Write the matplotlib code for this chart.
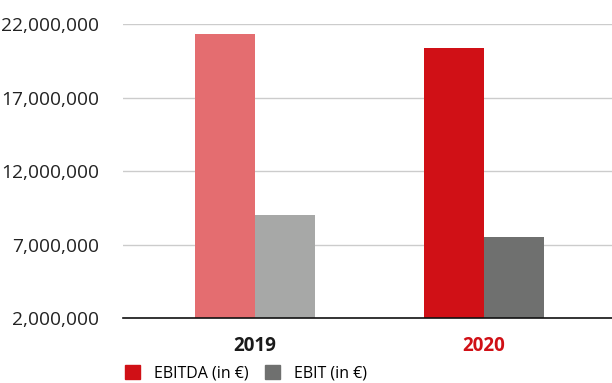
import matplotlib
matplotlib.use("Agg")
import matplotlib.pyplot as plt
from matplotlib.patches import Patch

years = ["2019", "2020"]
ebitda = [21_320_000, 20_370_000]
ebit = [9_010_000, 7_510_000]
yticks = [2_000_000, 7_000_000, 12_000_000, 17_000_000, 22_000_000]

ebitda_colors = ["#E46D70", "#D01016"]
ebit_colors = ["#A7A8A7", "#6F706F"]
year_colors = ["#1A1A1A", "#D01016"]

plt.rcParams["font.family"] = ["Open Sans", "DejaVu Sans"]

fig = plt.figure(figsize=(6.12, 3.83), dpi=100)
ax = fig.add_axes([123 / 612, 1 - 318 / 383, (612 - 123) / 612, (318 - 24) / 383])

x = range(len(years))
w = 0.262
ax.bar([i - w / 2 for i in x], ebitda, width=w, color=ebitda_colors, zorder=2)
ax.bar([i + w / 2 for i in x], ebit, width=w, color=ebit_colors, zorder=2)

ax.set_ylim(2_000_000, 22_000_000)
ax.set_xlim(-0.576, 1.559)
ax.set_yticks(yticks)
ax.set_yticklabels([f"{v:,}" for v in yticks], fontsize=13.8, color="#222222")
ax.yaxis.grid(True, color="#CCCCCC", linewidth=1, zorder=0)
ax.tick_params(axis="y", length=0, pad=17)
ax.tick_params(axis="x", length=0, pad=13)
ax.set_xticks(list(x))
ax.set_xticklabels(years, fontsize=13.5, fontweight="bold")
for lbl, c in zip(ax.get_xticklabels(), year_colors):
    lbl.set_color(c)

for s in ["top", "right", "left"]:
    ax.spines[s].set_visible(False)
ax.spines["bottom"].set_color("#111111")
ax.spines["bottom"].set_linewidth(1.2)

handles = [Patch(color="#D01016", label="EBITDA (in €)"),
           Patch(color="#6F706F", label="EBIT (in €)")]
fig.legend(handles=handles, loc="lower left", bbox_to_anchor=(123 / 612, 0.0),
           ncol=2, frameon=False, fontsize=11.5, handlelength=0.95, handleheight=0.95,
           columnspacing=1.0, handletextpad=0.9, borderpad=0.1, borderaxespad=0)

fig.savefig("out.png", dpi=100)
